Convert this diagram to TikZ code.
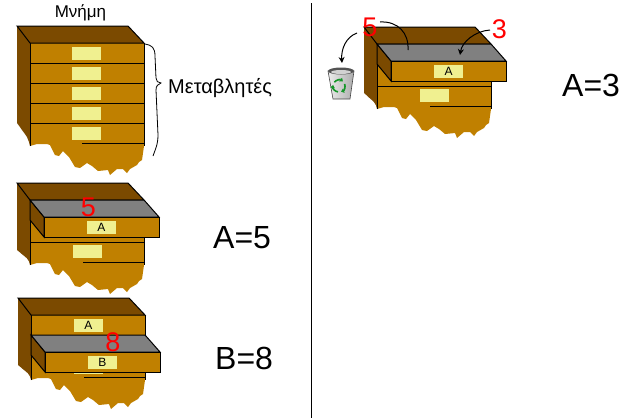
\documentclass[tikz,border=0pt]{standalone}
\usepackage{fontspec}
\setmainfont{Liberation Sans}
\usetikzlibrary{arrows.meta}
\definecolor{dbrown}{RGB}{123,74,0}
\definecolor{fbrown}{RGB}{192,128,0}
\definecolor{lbl}{RGB}{240,240,144}
\definecolor{dgray}{RGB}{128,128,128}
\definecolor{rgreen}{RGB}{20,150,40}
\tikzset{
  edge/.style={draw=black,line width=1pt,line join=miter},
  topface/.style={edge,fill=dbrown},
  grayface/.style={edge,fill=dgray},
  frontface/.style={edge,fill=fbrown},
  lblbox/.style={fill=lbl,minimum width=29pt,minimum height=13pt,inner sep=0pt,font=\fontsize{12}{12}\selectfont},
  reddigit/.style={text=red,inner sep=0pt,font=\fontsize{27}{27}\selectfont},
  bigtext/.style={inner sep=0pt,anchor=base west,font=\fontsize{32}{32}\selectfont},
  greektext/.style={inner sep=0pt,font=\fontsize{17}{17}\selectfont},
  thinarrow/.style={line width=1pt,-{Stealth[length=6pt,width=6pt]}},
}
% side of cabinet: #1 = bottom y, #2 = drop of side
\newcommand{\cabSide}[2]{%
  \fill[dbrown] (0,0) -- (13,17) -- (13,{#1+3}) -- (12,{#1-0.05*#2}) -- (10,{#1-0.3*#2})
    -- (8,{#1-0.45*#2}) -- (5,{#1-0.65*#2}) -- (3,{#1-0.8*#2}) -- (0,{#1-#2}) -- cycle;}
% front of cabinet with torn bottom: #1 = bottom y
\newcommand{\cabFront}[1]{%
  \fill[fbrown] (13,17) -- (127,17) -- (127,{#1+3}) -- (125,{#1+17}) -- (122,{#1+19})
    -- (120,{#1+22}) -- (113,{#1+26}) -- (110,{#1+30}) -- (106,{#1+26}) -- (100,{#1+26})
    -- (93,{#1+32}) -- (91,{#1+27}) -- (81,{#1+28}) -- (75,{#1+23}) -- (70,{#1+20})
    -- (63,{#1+25}) -- (58,{#1+24}) -- (52,{#1+14}) -- (46,{#1+8}) -- (42,{#1+13})
    -- (38,{#1+12}) -- (33,{#1+2}) -- (30,{#1+1}) -- (20,{#1+1}) -- (13,{#1+3}) -- cycle;
  \draw[line width=1pt] (13,17) -- (13,{#1+3});
  \draw[line width=1pt] (127,17) -- (127,{#1+3});}
\newcommand{\cabTop}{%
  \draw[topface] (0,0) -- (111,0) -- (127,17) -- (13,17) -- cycle;}
% pulled out drawer: #1 = top y, #2 = letter, #3 = node name
\newcommand{\pulled}[3]{%
  \draw[topface] (13,#1) -- (27,{#1+17}) -- (27,{#1+37}) -- (13,{#1+20}) -- cycle;
  \draw[grayface] (13,#1) -- (127,#1) -- (142,{#1+17}) -- (27,{#1+17}) -- cycle;
  \draw[frontface] (27,{#1+17}) rectangle (142,{#1+37});
  \node[lblbox] (#3) at (84.5,{#1+27.5}) {#2};}
\begin{document}
\begin{tikzpicture}[x=1pt,y=-1pt]
\useasboundingbox (0,0) rectangle (627,418);
\draw[line width=1pt] (311,3) -- (311,418);

% ---------- cabinet 1 : memory ----------
\node[greektext,anchor=base] (mnimi) at (80.5,17) {Μνήμη};
\begin{scope}[shift={(17,26)}]
  \cabSide{117}{20}
  \cabFront{117}
  \cabTop
  \foreach \y in {37,57,77,97} \draw[line width=1pt] (13,\y) -- (127,\y);
  \draw[line width=1pt] (65,117) -- (127,117);
  \foreach \y in {17,37,57,77,97} \fill[lbl] (55,\y+4) rectangle (84,\y+17);
\end{scope}
\draw[line width=0.8pt] (145,44) .. controls (152,45) and (155,48) .. (155,56)
  -- (156,78) .. controls (156,81) and (158,83) .. (161,83)
  .. controls (158,84) and (156,86) .. (156,90)
  -- (158,135) .. controls (158,145) and (155,150) .. (153,156);
\node[greektext,anchor=base west,font=\fontsize{20}{20}\selectfont] (metavl) at (168,93) {Μεταβλητές};

% ---------- cabinet 2 : A=5 ----------
\begin{scope}[shift={(17,183)}]
  \cabSide{79}{12}
  \cabFront{79}
  \cabTop
  \draw[line width=1pt] (13,59) -- (127,59);
  \draw[line width=1pt] (66,79) -- (127,79);
  \fill[lbl] (56,62) rectangle (85,75);
  \pulled{17}{A}{lblA2}
  \node[reddigit] (five2) at (71.5,24.5) {5};
\end{scope}
\node[bigtext] (eqA5) at (213,248) {A=5};

% ---------- cabinet 3 : B=8 ----------
\begin{scope}[shift={(18,298)}]
  \cabSide{79}{12}
  \cabFront{79}
  \cabTop
  \draw[line width=1pt] (13,37) -- (127,37);
  \node[lblbox] (lblA3) at (70.5,27.5) {A};
  \draw[line width=1pt] (66,79) -- (127,79);
  \fill[lbl] (56,74) rectangle (85,76);
  \pulled{37}{B}{lblB3}
  \node[reddigit] (eight3) at (95,44.5) {8};
\end{scope}
\node[bigtext] (eqB8) at (215,369) {B=8};

% ---------- cabinet 4 : A=3 ----------
\begin{scope}[shift={(364,27)}]
  \cabSide{79}{13}
  \cabFront{79}
  \cabTop
  \draw[line width=1pt] (13,59) -- (127,59);
  \draw[line width=1pt] (66,79) -- (127,79);
  \fill[lbl] (56,62) rectangle (85,75);
  \pulled{17}{A}{lblA4}
\end{scope}
\node[reddigit] (five4) at (370,27) {5};
\node[reddigit] (three4) at (499.5,29) {3};
\node[bigtext] (eqA3) at (562,96) {A=3};

% recycle bin
\shade[left color=gray!15, right color=gray!65, draw=gray!55!black, line width=0.6pt]
  (328,71) -- (354,71) -- (350,99) -- (333,99) -- cycle;
\fill[gray!65!black] (341,71) ellipse[x radius=13pt, y radius=3.5pt];
\fill[gray!35] (341,72) ellipse[x radius=10pt, y radius=2pt];
\begin{scope}[rgreen, line width=1.6pt]
  \draw[-{Triangle[length=3pt,width=4.5pt]}] (339,86) ++(100:6) arc[start angle=100, end angle=190, radius=6];
  \draw[-{Triangle[length=3pt,width=4.5pt]}] (339,86) ++(220:6) arc[start angle=220, end angle=310, radius=6];
  \draw[-{Triangle[length=3pt,width=4.5pt]}] (339,86) ++(340:6) arc[start angle=340, end angle=430, radius=6];
\end{scope}
\coordinate (binTop) at (342,63);
\coordinate (drawerGray) at (408,50);
\coordinate (drawerGray2) at (460,55);
\coordinate (fiveOut) at (357,33);
\coordinate (fiveIn) at (380,22);
\coordinate (threeOut) at (490,30);
\draw[thinarrow] (fiveOut) .. controls (346,37) and (341,49) .. (binTop);
\draw[line width=1pt] (fiveIn) .. controls (398,21) and (409,33) .. (drawerGray);
\draw[thinarrow] (threeOut) .. controls (475,31) and (462,42) .. (drawerGray2);
\end{tikzpicture}
\end{document}
